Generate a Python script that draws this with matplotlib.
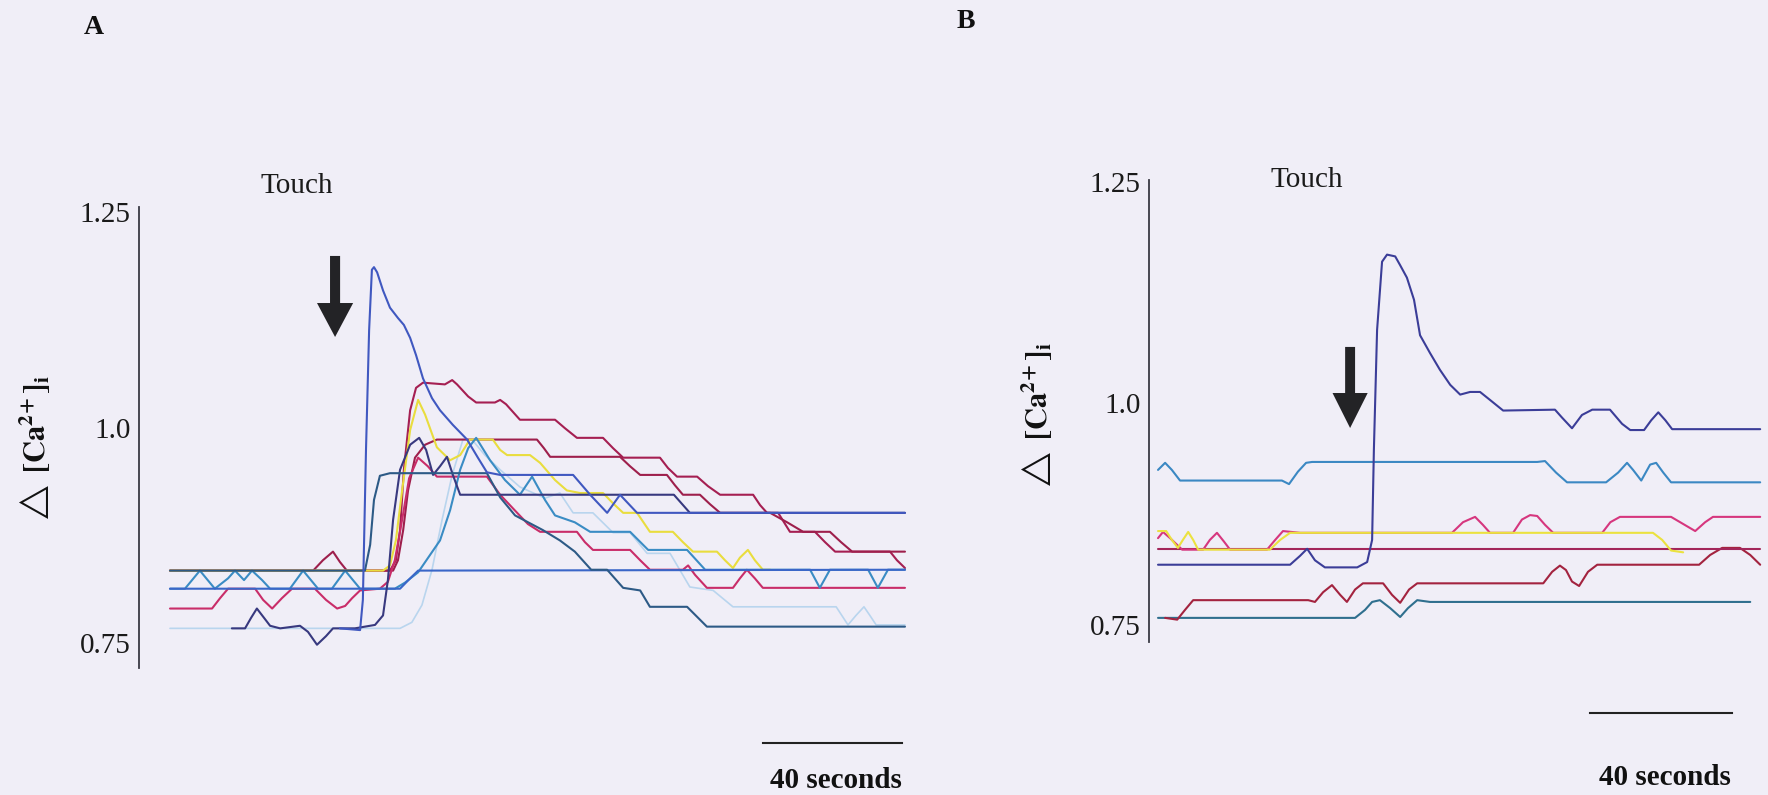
import matplotlib
matplotlib.use("Agg")
import matplotlib.pyplot as plt
from matplotlib.patches import FancyArrow

plt.rcParams["font.family"] = ["Liberation Serif", "DejaVu Sans"]
plt.rcParams["mathtext.fontset"] = "stix"

W, H = 1768, 795
BG = "#f0eef7"

# ---------------- Panel A: time (s) and delta [Ca2+]i for each cell ----------------
A_ticks = [0.75, 1.0, 1.25]
A_ticklabels = ["0.75", "1.0", "1.25"]

A_lightblue_t = [0, 66.2, 69.6, 72.5, 75.4, 78.3, 81.2, 84.3, 86.9, 90.6, 95.0, 100.7, 107.9, 112.2, 116.0,
                 121.7, 127.5, 132.4, 137.3, 143.9, 149.6, 156.3, 162.0, 191.7, 195.1, 197.4, 199.7, 201.4, 203.2, 211.5]
A_lightblue_v = [0.767, 0.767, 0.774, 0.794, 0.835, 0.893, 0.945, 0.986, 0.986, 0.968, 0.951, 0.931, 0.918, 0.924, 0.901,
                 0.901, 0.878, 0.878, 0.854, 0.854, 0.815, 0.811, 0.792, 0.792, 0.771, 0.782, 0.792, 0.782, 0.771, 0.771]

A_crimson1_t = [0, 63.3, 65.0, 66.2, 67.3, 69.1, 70.8, 72.8, 79.1, 81.2, 82.6, 85.8, 88.1, 93.5, 95.0, 96.7, 100.7,
                110.8, 113.7, 117.1, 124.6, 127.5, 130.4, 141.0, 143.3, 145.9, 151.7, 154.8, 158.3, 167.8, 169.8,
                171.8, 175.0, 178.4, 185.6, 188.5, 191.4, 207.2, 209.2, 211.5]
A_crimson1_v = [0.834, 0.834, 0.846, 0.881, 0.951, 1.020, 1.046, 1.052, 1.050, 1.055, 1.050, 1.036, 1.029, 1.029,
                1.032, 1.027, 1.009, 1.009, 0.999, 0.988, 0.988, 0.976, 0.965, 0.965, 0.953, 0.943, 0.943, 0.932,
                0.922, 0.922, 0.910, 0.901, 0.901, 0.879, 0.879, 0.867, 0.856, 0.856, 0.846, 0.837]

A_crimson2_t = [0, 41.2, 44.0, 46.9, 48.9, 50.9, 64.2, 65.6, 67.1, 68.5, 70.5, 73.4, 76.8, 105.6, 107.6, 109.4,
                129.5, 132.4, 135.3, 143.0, 145.3, 147.6, 152.5, 155.4, 158.3, 172.7, 177.6, 182.2, 189.9, 193.1,
                196.3, 211.5]
A_crimson2_v = [0.834, 0.834, 0.846, 0.856, 0.844, 0.834, 0.834, 0.846, 0.881, 0.927, 0.965, 0.980, 0.986, 0.986,
                0.976, 0.966, 0.966, 0.955, 0.945, 0.945, 0.933, 0.922, 0.922, 0.911, 0.901, 0.901, 0.890, 0.879,
                0.879, 0.867, 0.856, 0.856]

A_magenta_t = [0, 12.1, 14.4, 16.7, 24.5, 26.8, 29.4, 32.2, 35.1, 41.7, 44.9, 48.1, 50.4, 52.4, 54.7, 60.4, 62.7,
               64.7, 66.8, 68.8, 71.4, 74.2, 76.8, 91.2, 95.0, 99.9, 103.0, 106.5, 117.1, 119.4, 121.7, 132.4,
               135.3, 138.1, 147.6, 149.1, 151.1, 154.5, 162.0, 164.0, 166.0, 168.3, 170.6, 211.5]
A_magenta_v = [0.790, 0.790, 0.802, 0.813, 0.813, 0.800, 0.790, 0.802, 0.813, 0.813, 0.800, 0.790, 0.793, 0.802,
               0.811, 0.813, 0.821, 0.846, 0.893, 0.941, 0.965, 0.955, 0.943, 0.943, 0.922, 0.901, 0.888, 0.879,
               0.879, 0.867, 0.858, 0.858, 0.846, 0.835, 0.835, 0.840, 0.829, 0.814, 0.814, 0.825, 0.835, 0.825,
               0.814, 0.814]

A_yellow_t = [0, 61.3, 63.3, 65.0, 66.8, 69.1, 71.4, 73.4, 76.8, 80.6, 83.5, 86.3, 92.9, 95.0, 97.0, 103.6, 106.5,
              110.8, 114.2, 118.0, 124.6, 127.5, 130.4, 134.4, 138.1, 144.7, 147.6, 150.5, 157.4, 159.7, 162.0,
              164.0, 166.3, 168.3, 170.6, 172.7]
A_yellow_v = [0.834, 0.834, 0.840, 0.869, 0.927, 0.997, 1.032, 1.015, 0.977, 0.962, 0.968, 0.986, 0.986, 0.974,
              0.968, 0.968, 0.959, 0.939, 0.927, 0.924, 0.924, 0.912, 0.901, 0.901, 0.879, 0.879, 0.867, 0.856,
              0.856, 0.846, 0.837, 0.849, 0.858, 0.846, 0.835, 0.835]

A_teal_t = [0, 4.3, 8.6, 12.9, 16.7, 18.7, 21.3, 23.6, 26.5, 28.8, 34.5, 38.3, 42.6, 46.6, 50.4, 54.7, 64.7, 67.6,
            71.4, 74.8, 77.7, 80.6, 83.5, 85.8, 88.1, 92.1, 96.4, 100.7, 104.2, 107.9, 110.8, 116.5, 120.9, 132.4,
            137.6, 148.8, 154.0, 184.2, 187.0, 189.9, 200.9, 203.7, 206.6, 211.5]
A_teal_v = [0.813, 0.813, 0.834, 0.813, 0.825, 0.834, 0.823, 0.834, 0.823, 0.813, 0.813, 0.834, 0.813, 0.813,
            0.834, 0.813, 0.813, 0.820, 0.832, 0.852, 0.869, 0.904, 0.951, 0.976, 0.988, 0.962, 0.939, 0.922,
            0.943, 0.916, 0.898, 0.890, 0.879, 0.879, 0.858, 0.858, 0.835, 0.835, 0.814, 0.835, 0.835, 0.814,
            0.835, 0.835]

A_blue_t = [0, 66.2, 69.1, 71.4, 211.5]
A_blue_v = [0.813, 0.813, 0.825, 0.834, 0.835]

A_navy_t = [17.8, 21.6, 23.3, 25.0, 27.1, 28.8, 31.7, 37.4, 39.7, 42.3, 44.9, 46.9, 53.2, 59.0, 61.3, 62.7, 64.2,
            66.2, 69.1, 71.7, 73.7, 75.7, 77.7, 79.7, 81.4, 83.5, 145.0, 149.6, 211.5]
A_navy_v = [0.767, 0.767, 0.779, 0.790, 0.779, 0.770, 0.767, 0.770, 0.763, 0.748, 0.758, 0.767, 0.767, 0.771,
            0.782, 0.823, 0.893, 0.951, 0.980, 0.988, 0.974, 0.945, 0.955, 0.966, 0.945, 0.922, 0.922, 0.901, 0.901]

A_darkteal_t = [0, 56.1, 57.6, 58.7, 60.4, 63.3, 91.2, 95.0, 99.3, 107.3, 112.2, 116.5, 121.2, 125.8, 130.4, 135.3,
                138.1, 148.8, 154.5, 211.5]
A_darkteal_v = [0.834, 0.834, 0.864, 0.916, 0.944, 0.947, 0.947, 0.919, 0.898, 0.881, 0.869, 0.856, 0.835, 0.835,
                0.814, 0.811, 0.792, 0.792, 0.769, 0.769]

A_spike_t = [48.9, 54.7, 55.5, 56.4, 57.3, 58.1, 58.7, 59.6, 61.3, 63.3, 65.6, 67.3, 69.1, 70.8, 72.8, 75.4, 77.7,
             81.4, 85.5, 88.6, 91.2, 95.0, 116.0, 120.9, 125.8, 129.5, 134.4, 211.5]
A_spike_v = [0.767, 0.765, 0.800, 0.974, 1.113, 1.183, 1.186, 1.180, 1.159, 1.139, 1.127, 1.119, 1.104, 1.084,
             1.057, 1.034, 1.020, 1.003, 0.986, 0.965, 0.948, 0.945, 0.945, 0.922, 0.901, 0.922, 0.901, 0.901]

A_touch_t = 47.5           # time of the touch stimulus (s)
A_scalebar_t0 = 170.6      # start of the 40 s scale bar

# ---------------- Panel B ----------------
B_ticks = [0.75, 1.0, 1.25]
B_ticklabels = ["0.75", "1.0", "1.25"]

B_teal_bottom_t = [0, 55.5, 58.3, 60.3, 62.5, 65.4, 68.2, 70.4, 73.0, 76.6, 166.8]
B_teal_bottom_v = [0.758, 0.758, 0.767, 0.776, 0.778, 0.769, 0.759, 0.769, 0.778, 0.776, 0.776]

B_darkred_t = [2.0, 5.4, 7.6, 9.9, 42.3, 44.2, 46.5, 49.0, 51.3, 53.2, 55.5, 57.7, 63.4, 65.9, 68.2, 70.7, 73.0,
               108.5, 111.0, 113.2, 114.9, 116.6, 118.6, 121.1, 123.7, 152.4, 155.5, 158.9, 163.9, 166.8, 169.6]
B_darkred_v = [0.758, 0.756, 0.767, 0.778, 0.778, 0.776, 0.787, 0.795, 0.784, 0.776, 0.790, 0.797, 0.797, 0.784,
               0.775, 0.790, 0.797, 0.797, 0.810, 0.817, 0.812, 0.799, 0.794, 0.810, 0.818, 0.818, 0.829, 0.837,
               0.837, 0.829, 0.818]

B_crimson_t = [0, 169.6]
B_crimson_v = [0.836, 0.836]

B_magenta_t = [0, 1.4, 3.4, 6.8, 12.7, 14.6, 16.6, 18.6, 20.3, 30.7, 33.0, 35.2, 40.0, 82.8, 85.9, 89.3, 91.5,
               93.5, 100.0, 102.5, 104.8, 106.8, 109.0, 111.3, 125.1, 127.4, 130.1, 144.5, 147.9, 151.3, 154.1,
               156.3, 169.6]
B_magenta_v = [0.848, 0.855, 0.848, 0.835, 0.835, 0.846, 0.854, 0.844, 0.835, 0.835, 0.846, 0.856, 0.854, 0.854,
               0.866, 0.872, 0.863, 0.854, 0.854, 0.869, 0.874, 0.873, 0.863, 0.854, 0.854, 0.866, 0.872, 0.872,
               0.864, 0.856, 0.866, 0.872, 0.872]

B_yellow_t = [0, 2.3, 3.9, 5.6, 7.0, 8.5, 9.9, 11.3, 31.5, 34.4, 37.2, 139.4, 142.0, 144.5, 147.9]
B_yellow_v = [0.856, 0.856, 0.846, 0.837, 0.846, 0.855, 0.846, 0.835, 0.835, 0.846, 0.854, 0.854, 0.846, 0.834, 0.832]

B_teal_t = [0, 2.0, 3.9, 6.2, 34.9, 36.9, 39.4, 41.7, 43.4, 106.8, 109.0, 112.1, 115.2, 126.2, 129.6, 132.1,
            133.8, 136.1, 138.6, 140.3, 142.3, 144.5, 169.6]
B_teal_v = [0.925, 0.933, 0.925, 0.913, 0.913, 0.909, 0.923, 0.933, 0.934, 0.934, 0.935, 0.922, 0.911, 0.911,
            0.922, 0.933, 0.925, 0.913, 0.931, 0.933, 0.922, 0.911, 0.911]

B_spike_t = [0, 37.2, 40.0, 42.0, 44.2, 47.0, 56.1, 58.9, 60.3, 60.8, 61.7, 63.1, 64.5, 66.8, 68.2, 70.1, 72.1,
             73.8, 76.6, 79.4, 82.3, 85.1, 87.9, 90.7, 93.5, 97.2, 111.8, 113.8, 116.6, 119.4, 122.3, 127.3,
             130.7, 133.0, 136.9, 138.9, 140.9, 142.9, 144.8, 169.6]
B_spike_v = [0.818, 0.818, 0.828, 0.836, 0.823, 0.815, 0.815, 0.821, 0.846, 0.948, 1.083, 1.160, 1.168, 1.166,
             1.156, 1.142, 1.117, 1.077, 1.057, 1.038, 1.021, 1.010, 1.013, 1.013, 1.004, 0.992, 0.993, 0.984,
             0.972, 0.987, 0.993, 0.993, 0.977, 0.970, 0.970, 0.981, 0.990, 0.981, 0.971, 0.971]

B_touch_t = 54.1
B_scalebar_t0 = 121.7

SCALEBAR_S = 40

# ---------------- drawing ----------------
fig = plt.figure(figsize=(W / 100, H / 100), dpi=100, facecolor=BG)


def px_axes(left, top, right, bottom):
    return fig.add_axes([left / W, 1 - bottom / H, (right - left) / W, (bottom - top) / H])


def style_axes(ax, xlim, ylim, spine_lo, spine_hi, ticks, labels, pad):
    ax.set_facecolor("none")
    ax.set_xlim(*xlim)
    ax.set_ylim(*ylim)
    for s in ("top", "right", "bottom"):
        ax.spines[s].set_visible(False)
    ax.spines["left"].set_color("#3a3a44")
    ax.spines["left"].set_linewidth(1.3)
    ax.spines["left"].set_bounds(spine_lo, spine_hi)
    ax.set_xticks([])
    ax.set_yticks(ticks)
    ax.set_yticklabels(labels)
    ax.tick_params(axis="y", length=0, labelsize=21, pad=pad, labelcolor="#1a1a1a")


def trace(ax, t, v, color, z, lw=1.5):
    ax.plot(t, v, color=color, lw=lw, zorder=z, solid_joinstyle="round", solid_capstyle="round")


def down_arrow(ax, t, v_top, v_tip, shaft_w, head_w, head_len):
    ax.add_patch(FancyArrow(t, v_top, 0, v_tip - v_top, width=shaft_w, head_width=head_w,
                            head_length=head_len, length_includes_head=True,
                            color="#232326", lw=0, zorder=10))


def scale_bar(ax, t0, v_bar, v_text):
    ax.plot([t0, t0 + SCALEBAR_S], [v_bar, v_bar], color="#222222", lw=1.5, clip_on=False)
    ax.text(t0 + SCALEBAR_S / 2 + 1, v_text, f"{SCALEBAR_S} seconds", ha="center", va="center",
            fontsize=21, fontweight="bold", color="#111111")


# Panel A
axA = px_axes(139, 195, 930, 795)
style_axes(axA, (-8.92, 218.7), (0.5737, 1.2697), 0.721, 1.2558, A_ticks, A_ticklabels, 6)
trace(axA, A_lightblue_t, A_lightblue_v, "#b9d5ee", 2, lw=1.2)
trace(axA, A_crimson1_t, A_crimson1_v, "#a51f52", 3)
trace(axA, A_crimson2_t, A_crimson2_v, "#9e1f4c", 3)
trace(axA, A_magenta_t, A_magenta_v, "#c92d69", 4)
trace(axA, A_yellow_t, A_yellow_v, "#e9dd3e", 5)
trace(axA, A_teal_t, A_teal_v, "#3a8cc4", 6)
trace(axA, A_blue_t, A_blue_v, "#3a66c8", 7)
trace(axA, A_navy_t, A_navy_v, "#38397f", 7)
trace(axA, A_darkteal_t, A_darkteal_v, "#2d5a86", 8)
trace(axA, A_spike_t, A_spike_v, "#4058c0", 9)
down_arrow(axA, A_touch_t, 1.199, 1.105, 2.9, 10.4, 0.0394)
scale_bar(axA, A_scalebar_t0, 0.634, 0.591)

# Panel B
axB = px_axes(1149, 170, 1768, 795)
style_axes(axB, (-2.54, 171.8), (0.5581, 1.2635), 0.7308, 1.2523, B_ticks, B_ticklabels, 6)
trace(axB, B_teal_bottom_t, B_teal_bottom_v, "#2f6f8e", 2)
trace(axB, B_darkred_t, B_darkred_v, "#a3233f", 3)
trace(axB, B_crimson_t, B_crimson_v, "#a3265a", 4)
trace(axB, B_magenta_t, B_magenta_v, "#d6367e", 5)
trace(axB, B_yellow_t, B_yellow_v, "#ebe23f", 6)
trace(axB, B_teal_t, B_teal_v, "#3b88c3", 7)
trace(axB, B_spike_t, B_spike_v, "#3b3d98", 9)
down_arrow(axB, B_touch_t, 1.0638, 0.9723, 2.8, 9.9, 0.0395)
scale_bar(axB, B_scalebar_t0, 0.6507, 0.5773)

# Labels
ylab = r"$\triangle\ \mathbf{[Ca}^{\mathbf{2\!+}}\mathbf{]}_{\mathbf{i}}$"
fig.text(35 / W, 1 - 450 / H, ylab, rotation=90, ha="center", va="center", fontsize=22, color="#111111")
fig.text(1037 / W, 1 - 417 / H, ylab, rotation=90, ha="center", va="center", fontsize=22, color="#111111")

fig.text(297 / W, 1 - 186 / H, "Touch", ha="center", va="center", fontsize=21, color="#1a1a1a")
fig.text(1307 / W, 1 - 180 / H, "Touch", ha="center", va="center", fontsize=21, color="#1a1a1a")

fig.text(94 / W, 1 - 28 / H, "A", ha="center", va="center", fontsize=20, fontweight="bold", color="#111111")
fig.text(966 / W, 1 - 21 / H, "B", ha="center", va="center", fontsize=20, fontweight="bold", color="#111111")

fig.savefig("out.png", dpi=100, facecolor=BG)
